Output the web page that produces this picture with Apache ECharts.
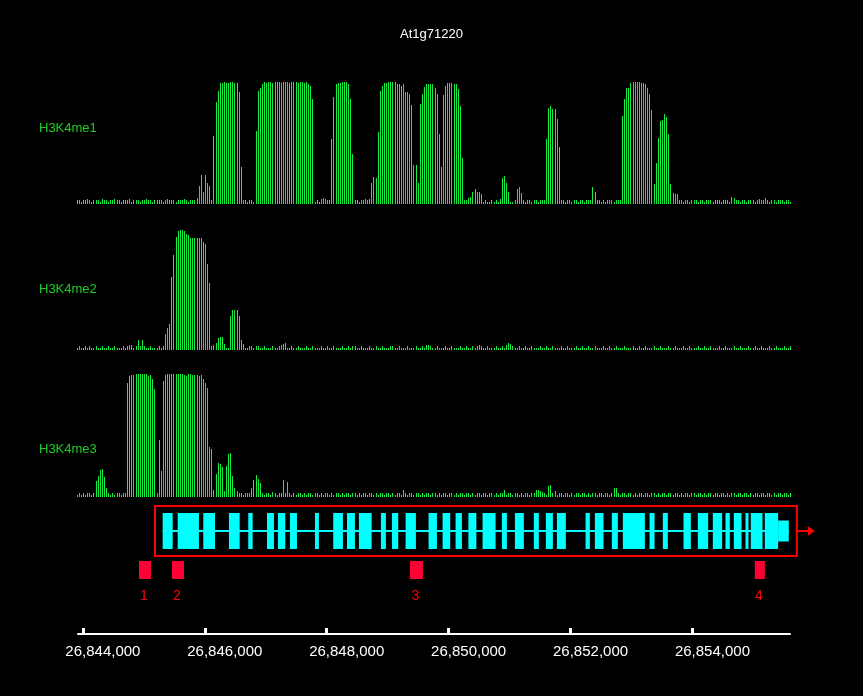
<!DOCTYPE html>
<html><head><meta charset="utf-8">
<script src="https://cdn.jsdelivr.net/npm/echarts@6/dist/echarts.min.js"></script>
<style>html,body{margin:0;padding:0;background:#000;}#c{width:863px;height:696px;}</style>
</head><body><div id="c"></div>
<script>
const chartTitle = 'At1g71220';
const trackNames = ['H3K4me1', 'H3K4me2', 'H3K4me3'];

const h3k4me1 = [
3,3,2,3,3,4,3,2,3,3,3,2,4,3,3,2,3,3,4,3,
3,2,3,3,3,4,2,3,3,3,2,3,3,4,3,3,2,3,3,3,
3,2,3,4,3,3,3,2,3,3,3,4,3,2,3,3,3,5,15,24,
10,24,17,15,3,56,84,93,99,99,100,99,99,100,100,99,99,92,30,3,
3,2,3,3,2,60,93,95,98,100,99,100,100,99,100,100,100,99,100,100,
100,99,100,100,100,99,100,100,99,100,98,97,86,2,3,2,4,5,4,3,
3,53,88,98,99,99,100,100,100,98,86,41,3,3,2,3,3,4,3,4,
17,22,21,59,93,97,99,99,100,100,100,100,98,98,97,98,92,92,90,81,
32,32,17,82,90,96,98,98,98,98,95,90,57,30,89,97,99,99,99,98,
98,94,80,38,3,3,5,6,10,12,10,10,8,2,3,2,2,3,2,3,
2,4,21,23,17,10,2,2,3,12,14,9,3,2,3,3,2,3,3,2,
3,3,3,53,79,80,78,78,70,47,3,3,2,3,3,2,3,3,2,3,
3,2,3,3,3,14,10,3,3,2,3,2,3,3,3,2,3,3,3,72,
86,95,95,99,100,100,100,100,99,99,98,95,90,77,16,34,54,68,69,74,
71,57,16,9,8,8,3,3,2,3,3,2,3,3,3,2,3,3,2,3,
3,3,2,3,3,3,2,3,3,3,2,6,5,3,3,2,3,3,2,3,
3,3,2,3,4,3,3,5,3,2,3,3,2,3,3,3,2,3,3,2
];

const h3k4me2 = [
2,3,2,2,3,2,3,2,2,3,2,2,3,2,2,3,2,2,3,2,
2,2,3,2,3,4,4,2,3,8,3,8,3,2,2,3,2,2,2,3,
2,3,13,18,22,61,79,94,99,100,100,99,97,96,93,93,93,93,93,93,
90,88,72,56,3,4,6,10,11,11,5,2,2,28,33,33,33,28,8,5,
2,2,3,3,2,3,3,2,2,3,2,2,2,3,2,2,3,4,5,6,
2,2,3,2,2,3,2,2,2,3,2,2,3,2,2,2,3,2,2,3,
2,2,3,2,2,2,3,2,2,3,2,3,3,2,2,3,2,2,2,3,
2,2,3,2,2,3,2,2,2,3,3,2,2,3,2,2,2,3,2,2,
2,3,2,2,3,2,4,4,3,2,2,3,2,2,2,3,2,2,3,2,
2,2,3,2,2,3,2,2,3,2,3,4,3,2,2,3,2,2,2,3,
2,2,3,2,4,6,5,3,2,2,3,2,2,3,2,2,3,2,2,2,
3,2,2,3,2,2,3,2,2,2,3,2,2,3,2,2,2,3,2,2,
3,2,2,3,2,2,3,2,2,2,3,2,2,3,2,2,3,2,2,2,
3,2,2,2,3,2,2,3,2,2,3,2,2,2,3,2,2,3,2,2,
2,3,2,2,3,2,2,2,3,2,2,3,2,2,2,3,2,2,3,2,
2,3,2,2,2,3,2,2,3,2,2,2,3,2,2,3,2,2,2,3,
2,2,3,2,2,3,2,2,2,3,2,2,3,2,2,2,3,2,2,3
];

const h3k4me3 = [
2,3,2,3,2,3,3,2,3,13,17,22,23,16,7,3,2,3,2,3,
3,2,3,3,93,98,99,99,100,100,100,100,100,100,98,99,96,88,3,46,
21,94,99,100,100,100,100,100,100,100,100,99,98,100,100,99,99,99,98,99,
96,93,89,41,39,6,19,28,27,24,5,25,35,36,17,7,5,3,3,2,
3,3,3,7,14,18,15,11,3,2,3,3,2,4,3,2,3,3,14,3,
12,3,2,3,2,3,3,2,3,2,3,3,2,3,3,2,3,2,3,3,
2,3,2,3,3,2,3,2,3,3,2,3,3,2,3,2,3,3,2,3,
3,2,3,2,3,3,2,3,3,2,3,2,3,3,2,6,3,2,3,3,
2,3,3,2,3,2,3,3,2,3,3,2,3,2,3,3,2,3,3,2,
3,2,3,3,2,3,3,2,3,2,3,3,2,3,3,2,3,3,2,3,
2,3,3,6,2,3,3,2,3,3,2,3,2,3,3,2,3,3,6,6,
5,4,3,2,9,10,3,5,2,3,3,2,3,3,2,3,2,3,3,2,
3,3,2,3,2,3,3,2,3,3,2,3,3,2,3,7,7,3,2,3,
3,2,3,3,2,3,2,3,3,2,3,3,2,3,3,2,3,2,3,3,
2,3,3,2,3,3,2,3,2,3,3,2,3,3,2,3,3,2,3,2,
3,3,2,3,3,2,3,3,2,3,2,3,3,2,3,3,2,3,3,2,
3,2,3,3,2,3,3,2,3,3,2,3,2,3,3,2,3,3,2,3
];

const exonStarts = [26845309,26845555,26845975,26846396,26846713,26847020,26847200,26847397,26847807,26848107,
  26848332,26848528,26848889,26849070,26849294,26849671,26849901,26850114,26850324,26850557,
  26850874,26851087,26851398,26851595,26851776,26852246,26852399,26852678,26852858,26853296,
  26853514,26853853,26854088,26854334,26854542,26854678,26854870,26854957,26855187];
const exonEnds = [26845473,26845904,26846167,26846572,26846785,26847134,26847320,26847512,26847872,26848266,
  26848463,26848737,26848971,26849173,26849463,26849808,26850026,26850218,26850455,26850770,
  26850956,26851234,26851480,26851710,26851923,26852317,26852541,26852776,26853219,26853378,
  26853596,26853973,26854257,26854487,26854613,26854805,26854919,26855149,26855405];
const utr3 = [26855405, 26855580];
const geneSpan = [26845309, 26855580];
const boxSpan = [26845183, 26855712];
const primerNames = ['1', '2', '3', '4'];
const primerStarts = [26844920, 26845462, 26849365, 26855023];
const primerEnds = [26845117, 26845658, 26849578, 26855187];
const tickValues = [26844000, 26846000, 26848000, 26850000, 26852000, 26854000];
const axisMin = 26843920, axisMax = 26855600;

const FONT = 'Liberation Sans, Arial, sans-serif';
const BAR_COLOR = '#14f03c';
const LABEL_COLOR = '#22cc22';
const GENE_Y = 103;

const chart = echarts.init(document.getElementById('c'), null, {renderer: 'canvas'});

const trackTops = [82, 230, 374];
const trackHeights = [122, 120, 123];
const trackLabelTops = [117, 278, 438];
const tracks = [h3k4me1, h3k4me2, h3k4me3];

const grids = [], xAxes = [], yAxes = [], series = [];
tracks.forEach((d, i) => {
  grids.push({left: 76, width: 716, top: trackTops[i], height: trackHeights[i]});
  xAxes.push({type: 'category', gridIndex: i, show: false, boundaryGap: true, data: d.map((v, k) => k)});
  yAxes.push({type: 'value', gridIndex: i, min: 0, max: 100, show: false});
  series.push({type: 'custom', xAxisIndex: i, yAxisIndex: i, silent: true, animation: false,
    data: d.map((v, k) => [k, v]),
    encode: {x: 0, y: 1},
    renderItem: (p, api) => {
      const top = api.coord([api.value(0), api.value(1)]);
      const base = api.coord([api.value(0), 0]);
      const x = Math.round(top[0] - 0.5);
      return {type: 'rect', shape: {x: x, y: Math.round(top[1]), width: 1, height: Math.round(base[1]) - Math.round(top[1])},
        style: {fill: BAR_COLOR}};
    }});
});

grids.push({left: 78, width: 712, top: 500, height: 134});
xAxes.push({type: 'value', gridIndex: 3, min: axisMin, max: axisMax,
  axisLine: {show: true, lineStyle: {color: '#fff', width: 2}},
  axisTick: {show: true, inside: true, length: 6, lineStyle: {color: '#fff', width: 3}, customValues: tickValues},
  axisLabel: {show: true, color: '#fff', fontSize: 15, fontFamily: FONT, margin: 10, customValues: tickValues,
    padding: [0, 0, 0, 40],
    formatter: v => Number(v).toLocaleString('en-US')},
  splitLine: {show: false}});
yAxes.push({type: 'value', gridIndex: 3, min: 0, max: 134, show: false});

// red box + arrow
series.push({type: 'custom', xAxisIndex: 3, yAxisIndex: 3, clip: false, silent: true, animation: false,
  data: [[boxSpan[0], boxSpan[1]]],
  renderItem: (p, api) => {
    const a = api.coord([api.value(0), GENE_Y]);
    const b = api.coord([api.value(1), GENE_Y]);
    return {type: 'group', children: [
      {type: 'rect', shape: {x: a[0], y: a[1] - 25, width: b[0] - a[0], height: 50},
        style: {fill: null, stroke: '#ff0000', lineWidth: 2}},
      {type: 'line', shape: {x1: b[0], y1: a[1], x2: b[0] + 14, y2: a[1]}, style: {stroke: '#ff0000', lineWidth: 2}},
      {type: 'polygon', shape: {points: [[b[0] + 11, a[1] - 5], [b[0] + 18, a[1]], [b[0] + 11, a[1] + 5]]}, style: {fill: '#ff0000'}}
    ]};
  }});
// intron line
series.push({type: 'custom', xAxisIndex: 3, yAxisIndex: 3, clip: false, silent: true, animation: false,
  data: [[geneSpan[0], geneSpan[1]]],
  renderItem: (p, api) => {
    const a = api.coord([api.value(0), GENE_Y]);
    const b = api.coord([api.value(1), GENE_Y]);
    return {type: 'rect', shape: {x: a[0], y: a[1] - 1, width: b[0] - a[0], height: 2}, style: {fill: '#00ffff'}};
  }});
// exons
series.push({type: 'custom', xAxisIndex: 3, yAxisIndex: 3, clip: false, silent: true, animation: false,
  data: exonStarts.map((s, i) => [s, exonEnds[i], 36]).concat([[utr3[0], utr3[1], 21]]),
  renderItem: (p, api) => {
    const a = api.coord([api.value(0), GENE_Y]);
    const b = api.coord([api.value(1), GENE_Y]);
    const h = api.value(2);
    return {type: 'rect', shape: {x: a[0], y: a[1] - h / 2, width: Math.max(b[0] - a[0], 1), height: h}, style: {fill: '#00ffff'}};
  }});
// primers
series.push({type: 'custom', xAxisIndex: 3, yAxisIndex: 3, clip: false, silent: true, animation: false,
  data: primerStarts.map((s, i) => [s, primerEnds[i]]),
  renderItem: (p, api) => {
    const a = api.coord([api.value(0), GENE_Y]);
    const b = api.coord([api.value(1), GENE_Y]);
    const name = primerNames[p.dataIndex];
    return {type: 'group', children: [
      {type: 'rect', shape: {x: a[0], y: a[1] + 30, width: b[0] - a[0], height: 18}, style: {fill: '#ff0033'}},
      {type: 'text', x: (a[0] + b[0]) / 2 - 1, y: a[1] + 65,
        style: {text: name, fill: '#ff0000', font: '14px ' + FONT, align: 'center', verticalAlign: 'middle'}}
    ]};
  }});

const titles = [{text: chartTitle, left: 'center', top: 23, textStyle: {color: '#fff', fontSize: 13, fontWeight: 'normal', fontFamily: FONT}}];
trackNames.forEach((n, i) => titles.push({text: n, left: 34, top: trackLabelTops[i],
  textStyle: {color: LABEL_COLOR, fontSize: 13, fontWeight: 'normal', fontFamily: FONT}}));

chart.setOption({
  backgroundColor: '#000',
  animation: false,
  title: titles,
  grid: grids,
  xAxis: xAxes,
  yAxis: yAxes,
  series: series
});
</script></body></html>
